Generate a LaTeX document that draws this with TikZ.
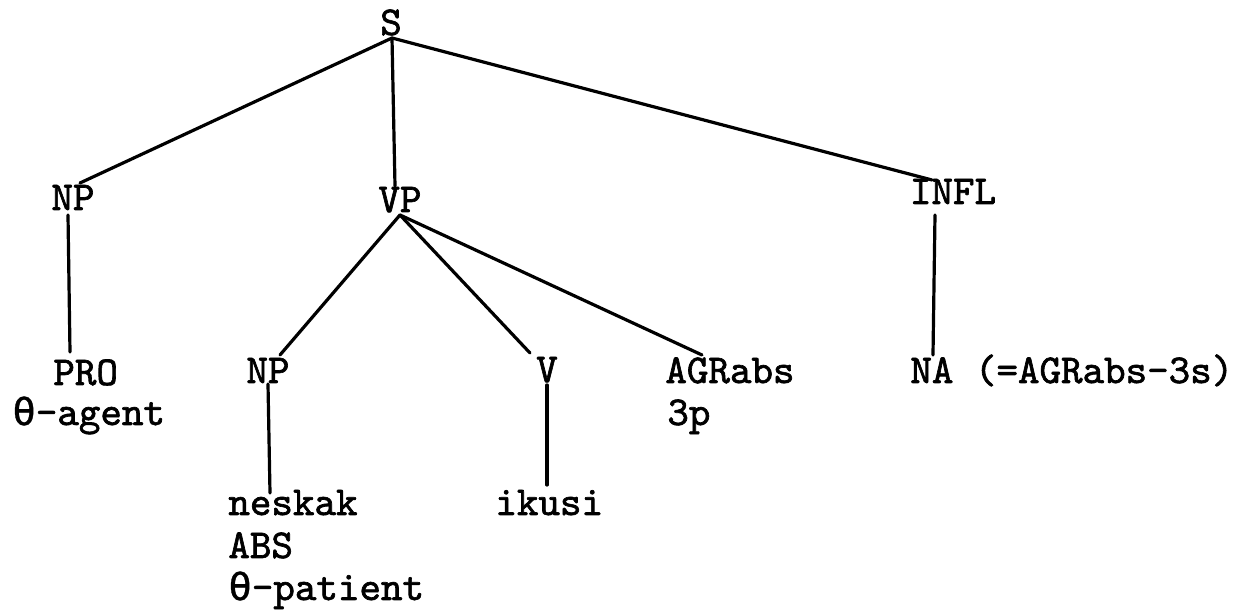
\documentclass[tikz,border=0pt]{standalone}
\usepackage{fontspec}
\setmonofont{lmmono10-regular}[Extension=.otf,FakeBold=1.6]
\newfontfamily\thfont{DejaVu Sans Mono}[Scale=0.95,FakeBold=0.8]
\newcommand{\mytheta}{{\thfont\mdseries θ}}
\begin{document}
\begin{tikzpicture}[x=0.5pt,y=-0.5pt,
  lab/.style={inner sep=0pt,font=\fontsize{20.5}{24}\selectfont\ttfamily},
  edge/.style={line width=1.6pt,line cap=round}]
\useasboundingbox (0,0) rectangle (1239,613);
% top
\node[lab,anchor=base] (S) at (391,35) {S};
\node[lab,anchor=base] (NP) at (73,210) {NP};
\node[lab,anchor=base] (VP) at (400,212) {VP};
\node[lab,anchor=base] (INFL) at (953,204) {INFL};
% second row
\node[lab,anchor=base west] (PRO) at (53,385) {PRO};
\node[lab,anchor=base west] (agent) at (12,425) {\mytheta-agent};
\node[lab,anchor=base] (NPb) at (268,383) {NP};
\node[lab,anchor=base] (V) at (547,382) {V};
\node[lab,anchor=base west] (AGR) at (665,383) {AGRabs};
\node[lab,anchor=base west] (p3) at (667,425) {3p};
\node[lab,anchor=base west] (NA) at (910,383) {NA (=AGRabs-3s)};
% third row
\node[lab,anchor=base west] (neskak) at (228,515) {neskak};
\node[lab,anchor=base west] (ABS) at (228,558) {ABS};
\node[lab,anchor=base west] (patient) at (228,600) {\mytheta-patient};
\node[lab,anchor=base west] (ikusi) at (495,515) {ikusi};
% edges
\draw[edge] ([shift={(1,3)}]S.base) -- ([shift={(7,-27)}]NP.base);
\draw[edge] ([shift={(1,3)}]S.base) -- ([shift={(-5,-26)}]VP.base);
\draw[edge] ([shift={(1,3)}]S.base) -- ([shift={(-21,-24)}]INFL.base);
\draw[edge] ([shift={(-5,5)}]NP.base) -- ([shift={(17,-33)}]PRO.base west);
\draw[edge] ([shift={(0,3)}]VP.base) -- ([shift={(12,-28)}]NPb.base);
\draw[edge] ([shift={(0,3)}]VP.base) -- ([shift={(-17,-29)}]V.base);
\draw[edge] ([shift={(0,3)}]VP.base) -- ([shift={(37,-28)}]AGR.base west);
\draw[edge] ([shift={(0,1)}]NPb.base) -- ([shift={(42,-22)}]neskak.base west);
\draw[edge] ([shift={(0,3)}]V.base) -- ([shift={(52,-30)}]ikusi.base west);
\draw[edge] ([shift={(-18,11)}]INFL.base) -- ([shift={(23,-28)}]NA.base west);
\end{tikzpicture}
\end{document}
